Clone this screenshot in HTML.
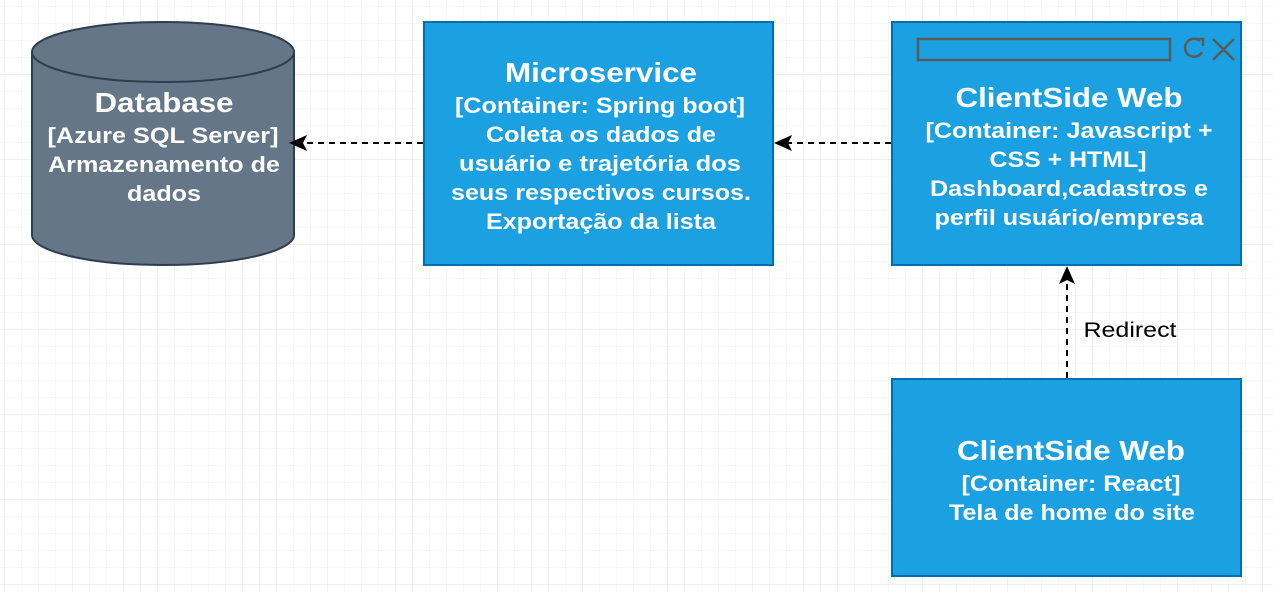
<!DOCTYPE html>
<html><head><meta charset="utf-8"><style>
html,body{margin:0;padding:0;background:#fff}
svg{display:block}
text{font-family:"Liberation Sans",Arial,sans-serif;font-weight:bold;fill:#fff;text-anchor:middle}
</style></head><body>
<svg width="1273" height="592" viewBox="0 0 1273 592" xmlns="http://www.w3.org/2000/svg">
<defs>
<pattern id="minor" x="-12" y="-10" width="17" height="17" patternUnits="userSpaceOnUse">
<path d="M17 0V17M0 17H17" stroke="#efefef" stroke-width="1" fill="none"/>
</pattern>
<pattern id="major" x="-12" y="-10" width="85" height="85" patternUnits="userSpaceOnUse">
<path d="M85 0V85M0 85H85" stroke="#e2e2e2" stroke-width="1" fill="none"/>
</pattern>
</defs>
<rect width="1273" height="592" fill="url(#minor)"/>
<rect width="1273" height="592" fill="url(#major)"/>

<!-- Database -->
<path d="M32 52 V235 A131 30 0 0 0 294 235 V52" fill="#647687" stroke="#2f3e4e" stroke-width="2"/>
<ellipse cx="163" cy="52" rx="131" ry="30" fill="#647687" stroke="#2f3e4e" stroke-width="2"/>
<text x="164" y="112" font-size="28" textLength="139" lengthAdjust="spacingAndGlyphs">Database</text>
<text x="163" y="143" font-size="22" textLength="231" lengthAdjust="spacingAndGlyphs">[Azure SQL Server]</text>
<text x="164" y="172" font-size="22" textLength="232" lengthAdjust="spacingAndGlyphs">Armazenamento de</text>
<text x="164" y="201" font-size="22" textLength="74" lengthAdjust="spacingAndGlyphs">dados</text>

<!-- Microservice -->
<rect x="424" y="22" width="349" height="243" fill="#1ba1e2" stroke="#006eaf" stroke-width="2"/>
<text x="601" y="82" font-size="28" textLength="192" lengthAdjust="spacingAndGlyphs">Microservice</text>
<text x="600" y="113" font-size="22" textLength="290" lengthAdjust="spacingAndGlyphs">[Container: Spring boot]</text>
<text x="601" y="142" font-size="22" textLength="230" lengthAdjust="spacingAndGlyphs">Coleta os dados de</text>
<text x="600" y="171" font-size="22" textLength="282" lengthAdjust="spacingAndGlyphs">usuário e trajetória dos</text>
<text x="601" y="200" font-size="22" textLength="300" lengthAdjust="spacingAndGlyphs">seus respectivos cursos.</text>
<text x="601" y="229" font-size="22" textLength="230" lengthAdjust="spacingAndGlyphs">Exportação da lista</text>

<!-- ClientSide Web JS -->
<rect x="892" y="22" width="349" height="243" fill="#1ba1e2" stroke="#006eaf" stroke-width="2"/>
<rect x="918" y="39" width="252" height="21" fill="none" stroke="#5a5a5a" stroke-width="2.5"/>
<path d="M1200 41 A9 9 0 1 0 1202 52" fill="none" stroke="#5a5a5a" stroke-width="2.5"/>
<path d="M1196 39 L1203 39 L1203 46" fill="none" stroke="#5a5a5a" stroke-width="2.5"/>
<path d="M1213 39 L1234 60 M1234 39 L1213 60" stroke="#5a5a5a" stroke-width="2.5"/>
<text x="1069" y="107" font-size="28" textLength="227" lengthAdjust="spacingAndGlyphs">ClientSide Web</text>
<text x="1069" y="138" font-size="22" textLength="287" lengthAdjust="spacingAndGlyphs">[Container: Javascript +</text>
<text x="1068" y="167" font-size="22" textLength="157" lengthAdjust="spacingAndGlyphs">CSS + HTML]</text>
<text x="1069" y="196" font-size="22" textLength="278" lengthAdjust="spacingAndGlyphs">Dashboard,cadastros e</text>
<text x="1069" y="225" font-size="22" textLength="269" lengthAdjust="spacingAndGlyphs">perfil usuário/empresa</text>

<!-- ClientSide Web React -->
<rect x="892" y="379" width="349" height="197" fill="#1ba1e2" stroke="#006eaf" stroke-width="2"/>
<text x="1071" y="460" font-size="28" textLength="228" lengthAdjust="spacingAndGlyphs">ClientSide Web</text>
<text x="1071" y="491" font-size="22" textLength="219" lengthAdjust="spacingAndGlyphs">[Container: React]</text>
<text x="1072" y="520" font-size="22" textLength="246" lengthAdjust="spacingAndGlyphs">Tela de home do site</text>

<!-- connectors -->
<line x1="423" y1="143" x2="300" y2="143" stroke="#000" stroke-width="2" stroke-dasharray="6,5"/>
<path d="M289 143 L307 135 L303 143 L307 151 Z" fill="#000"/>
<line x1="891" y1="143" x2="785" y2="143" stroke="#000" stroke-width="2" stroke-dasharray="6,5"/>
<path d="M774 143 L792 135 L788 143 L792 151 Z" fill="#000"/>
<line x1="1067" y1="378" x2="1067" y2="278" stroke="#000" stroke-width="2" stroke-dasharray="6,5"/>
<path d="M1067 266 L1075 284 L1067 280 L1059 284 Z" fill="#000"/>
<text x="1130" y="337" font-size="21" textLength="93" lengthAdjust="spacingAndGlyphs" style="fill:#000;font-weight:normal">Redirect</text>
</svg>
</body></html>
